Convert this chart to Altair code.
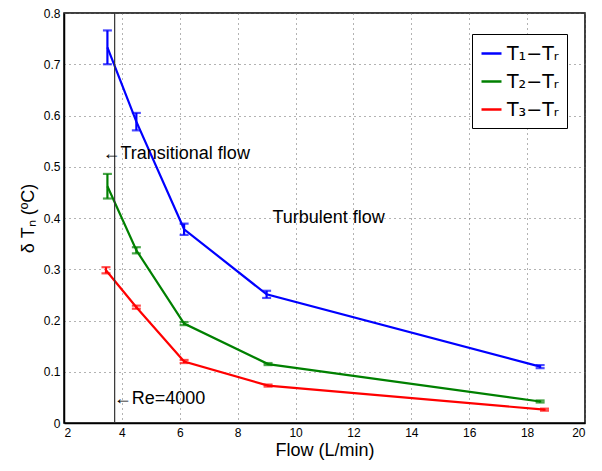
import altair as alt
import pandas as pd

series_names = ["T₁−Tᵣ", "T₂−Tᵣ", "T₃−Tᵣ"]
series_colors = ["#0000ff", "#008000", "#ff0000"]

blue_x = [3.5, 4.5, 6.15, 9.0, 18.45]
blue_y = [0.733, 0.588, 0.378, 0.251, 0.110]
blue_err = [0.033, 0.017, 0.011, 0.007, 0.003]

green_x = [3.5, 4.5, 6.15, 9.05, 18.45]
green_y = [0.462, 0.337, 0.194, 0.115, 0.042]
green_err = [0.024, 0.006, 0.003, 0.002, 0.002]

red_x = [3.45, 4.5, 6.15, 9.05, 18.6]
red_y = [0.298, 0.226, 0.120, 0.073, 0.026]
red_err = [0.006, 0.003, 0.003, 0.002, 0.002]

re_line_x = 3.75

x_ticks = [2, 4, 6, 8, 10, 12, 14, 16, 18, 20]
y_ticks = [0, 0.1, 0.2, 0.3, 0.4, 0.5, 0.6, 0.7, 0.8]

rows = []
for name, xs, ys, es in zip(series_names,
                            [blue_x, green_x, red_x],
                            [blue_y, green_y, red_y],
                            [blue_err, green_err, red_err]):
    for i, (xv, yv, ev) in enumerate(zip(xs, ys, es)):
        rows.append({"series": name, "order": i, "flow": xv, "dT": yv,
                     "lo": yv - ev, "hi": yv + ev})
df = pd.DataFrame(rows)

FONT = "Liberation Sans"

xscale = alt.Scale(domain=[2, 20], nice=False, zero=False)
yscale = alt.Scale(domain=[0, 0.8], nice=False)
color = alt.Color("series:N",
                  scale=alt.Scale(domain=series_names, range=series_colors),
                  legend=alt.Legend(title=None, orient="none", legendX=408, legendY=21,
                                    symbolType="stroke", symbolSize=400,
                                    symbolStrokeWidth=2.5,
                                    labelFontSize=19, labelFont="DejaVu Sans",
                                    rowPadding=6, padding=8,
                                    strokeColor="black", fillColor="white",
                                    labelLimit=200))
color_nl = alt.Color("series:N", scale=alt.Scale(domain=series_names, range=series_colors),
                     legend=None)

x_axis = alt.Axis(values=x_ticks, title="Flow (L/min)", grid=True, tickSize=0,
                  labelPadding=4, titlePadding=3)
y_axis = alt.Axis(values=y_ticks, title="δ Tₙ (ºC)", grid=True, tickSize=0,
                  labelPadding=4, titlePadding=6, format=".1f",
                  labelExpr="datum.value == 0 ? '0' : datum.label")

X = alt.X("flow:Q", scale=xscale, axis=x_axis)

base = alt.Chart(df)

lines = base.mark_line(strokeWidth=2.2).encode(
    x=X,
    y=alt.Y("dT:Q", scale=yscale, axis=y_axis),
    color=color,
    order="order:Q",
)

err = base.mark_rule(strokeWidth=2.2).encode(
    x=X, y=alt.Y("lo:Q", scale=yscale, axis=y_axis), y2="hi:Q", color=color_nl,
)
cap_lo = base.mark_tick(orient="horizontal", size=9, thickness=2.2).encode(
    x=X, y=alt.Y("lo:Q", scale=yscale, axis=y_axis), color=color_nl,
)
cap_hi = base.mark_tick(orient="horizontal", size=9, thickness=2.2).encode(
    x=X, y=alt.Y("hi:Q", scale=yscale, axis=y_axis), color=color_nl,
)

vline = alt.Chart(pd.DataFrame({"x": [re_line_x]})).mark_rule(color="#333333", strokeWidth=1.2).encode(
    x=alt.X("x:Q", scale=xscale, axis=x_axis)
)

ann = pd.DataFrame({
    "x": [3.33, 3.72, 9.2],
    "y": [0.525, 0.046, 0.40],
    "t": ["←Transitional flow", "←Re=4000", "Turbulent flow"],
})
texts = alt.Chart(ann).mark_text(align="left", baseline="middle", fontSize=18, font=FONT,
                                 color="black").encode(
    x=alt.X("x:Q", scale=xscale, axis=x_axis),
    y=alt.Y("y:Q", scale=yscale, axis=y_axis),
    text="t:N"
)

chart = alt.layer(lines, err, cap_lo, cap_hi, vline, texts).properties(
    width=521, height=410,
    autosize=alt.AutoSizeParams(type="none"),
    padding={"left": 56, "top": 5, "right": 5, "bottom": 40},
).configure_view(
    stroke="black", strokeWidth=1.5
).configure_axis(
    labelFont=FONT, titleFont=FONT, labelFontSize=12, titleFontSize=18,
    titleFontWeight="normal", labelColor="black", titleColor="black",
    domainColor="black", domainWidth=1.5,
    grid=True, gridColor="#666666", gridDash=[1, 4], gridWidth=1, gridOpacity=1,
)

chart.save("out.html", embed_options={"renderer": "svg", "actions": False})
